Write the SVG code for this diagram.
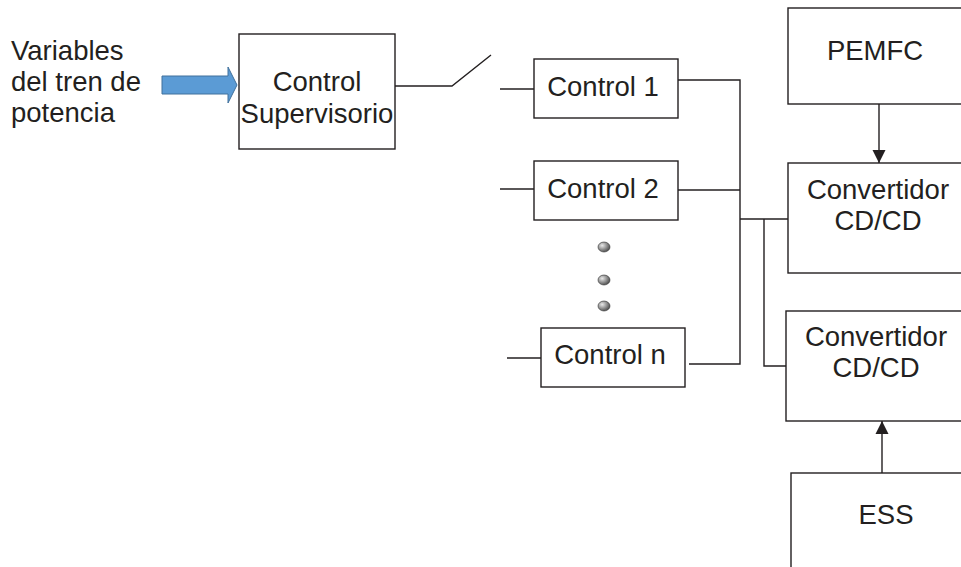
<svg xmlns="http://www.w3.org/2000/svg" width="961" height="567" viewBox="0 0 961 567">
<style>
.box{fill:#fff;stroke:#231f20;stroke-width:1.4}
.ln{fill:none;stroke:#231f20;stroke-width:1.4}
.t{font-family:"Liberation Sans",Arial,sans-serif;font-size:27.5px;fill:#231f20}
.c{text-anchor:middle}
</style>
<defs>
<marker id="ah" markerWidth="14" markerHeight="14" refX="13" refY="7" orient="auto" markerUnits="userSpaceOnUse">
<path d="M0,0.5 L13,7 L0,13.5 Z" fill="#231f20"/>
</marker>
<radialGradient id="dot" cx="0.35" cy="0.35" r="0.7">
<stop offset="0" stop-color="#e8e8e8"/>
<stop offset="1" stop-color="#4a4a4a"/>
</radialGradient>
</defs>
<rect width="961" height="567" fill="#fff"/>
<g id="input-label">
<text class="t" x="11" y="60">Variables</text>
<text class="t" x="11" y="91">del tren de</text>
<text class="t" x="11" y="122">potencia</text>
</g>
<g id="input-arrow">
<path d="M162,76 L228,76 L228,67 L237,85 L228,103 L228,94 L162,94 Z" fill="#5b9bd5" stroke="#41719c" stroke-width="1"/>
</g>
<g id="supervisorio">
<rect class="box" x="239" y="34" width="156" height="115"/>
<text class="t c" x="317" y="91">Control</text>
<text class="t c" x="317" y="123">Supervisorio</text>
</g>
<g id="control1">
<rect class="box" x="534" y="59" width="144" height="59"/>
<text class="t c" x="603" y="96">Control 1</text>
</g>
<g id="control2">
<rect class="box" x="534" y="161" width="144" height="59"/>
<text class="t c" x="603" y="198">Control 2</text>
</g>
<g id="dots">
<ellipse cx="604" cy="247" rx="6" ry="5" fill="url(#dot)" stroke="#333" stroke-width="0.6"/>
<ellipse cx="604" cy="280" rx="6" ry="5" fill="url(#dot)" stroke="#333" stroke-width="0.6"/>
<ellipse cx="604" cy="306" rx="6" ry="5" fill="url(#dot)" stroke="#333" stroke-width="0.6"/>
</g>
<g id="controln">
<rect class="box" x="541" y="328" width="144" height="59"/>
<text class="t c" x="610" y="364">Control n</text>
</g>
<g id="pemfc">
<rect class="box" x="788" y="8" width="185" height="96"/>
<text class="t c" x="875" y="60">PEMFC</text>
</g>
<g id="conv1">
<rect class="box" x="788" y="163" width="185" height="110"/>
<text class="t c" x="878" y="199">Convertidor</text>
<text class="t c" x="878" y="230">CD/CD</text>
</g>
<g id="conv2">
<rect class="box" x="786" y="311" width="185" height="110"/>
<text class="t c" x="876" y="346">Convertidor</text>
<text class="t c" x="876" y="377">CD/CD</text>
</g>
<g id="ess">
<rect class="box" x="791" y="473" width="185" height="110"/>
<text class="t c" x="886" y="524">ESS</text>
</g>
<g id="connectors">
<path class="ln" d="M395,86 L452,86 L491,55"/>
<path class="ln" d="M500,89 L534,89"/>
<path class="ln" d="M500,189 L534,189"/>
<path class="ln" d="M507,358 L541,358"/>
<path class="ln" d="M678,80 L740,80 L740,364 L689,364"/>
<path class="ln" d="M678,190 L740,190"/>
<path class="ln" d="M740,219 L788,219"/>
<path class="ln" d="M764,219 L764,366 L786,366"/>
<path class="ln" d="M879,104 L879,163" marker-end="url(#ah)"/>
<path class="ln" d="M882,473 L882,421" marker-end="url(#ah)"/>
</g>
</svg>
